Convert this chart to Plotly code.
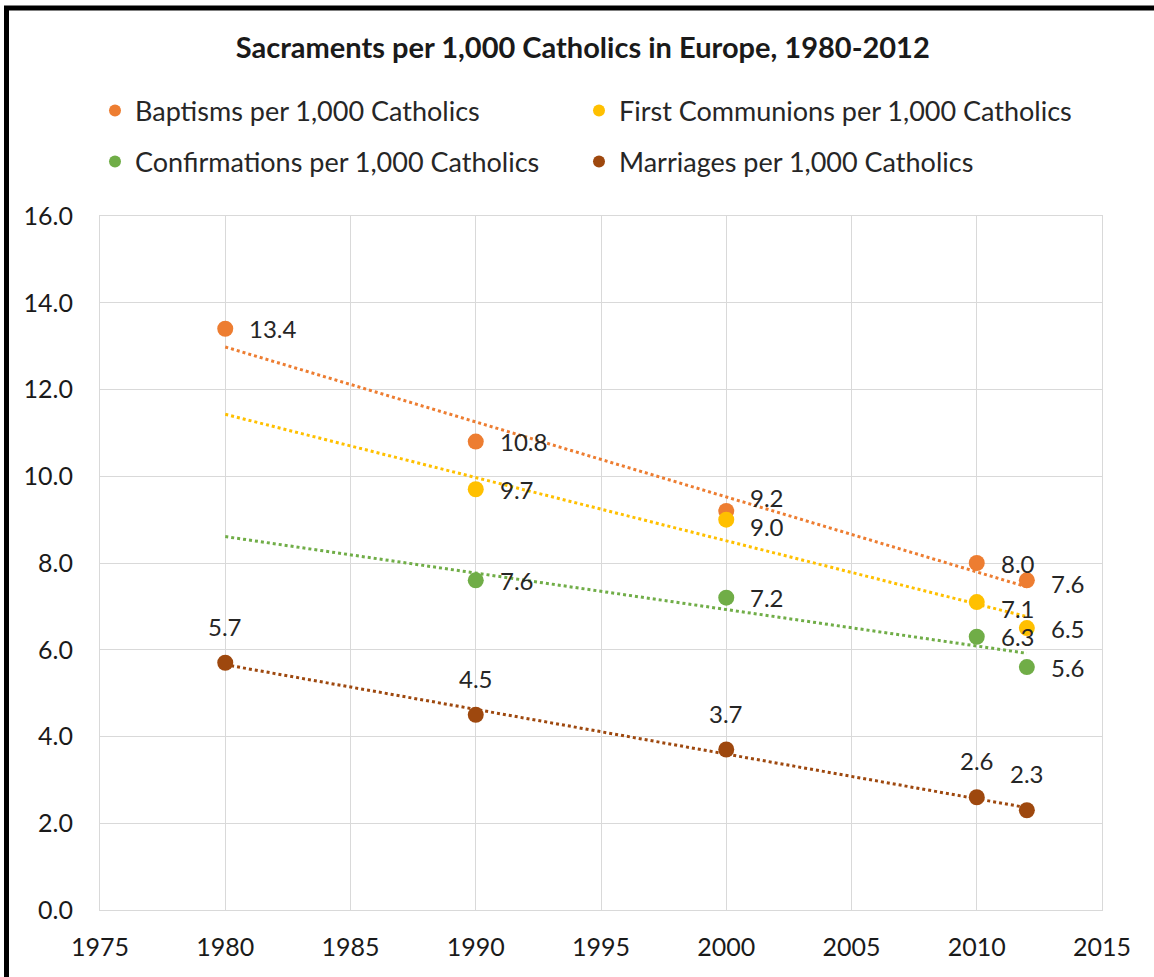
import numpy as np
import plotly.graph_objects as go

# ---------------- data ----------------
title_text = "Sacraments per 1,000 Catholics in Europe, 1980-2012"

series_names = [
    "Baptisms per 1,000 Catholics",
    "First Communions per 1,000 Catholics",
    "Confirmations per 1,000 Catholics",
    "Marriages per 1,000 Catholics",
]

baptism_years = [1980, 1990, 2000, 2010, 2012]
baptism_values = [13.4, 10.8, 9.2, 8.0, 7.6]

communion_years = [1990, 2000, 2010, 2012]
communion_values = [9.7, 9.0, 7.1, 6.5]

confirmation_years = [1990, 2000, 2010, 2012]
confirmation_values = [7.6, 7.2, 6.3, 5.6]

marriage_years = [1980, 1990, 2000, 2010, 2012]
marriage_values = [5.7, 4.5, 3.7, 2.6, 2.3]

trend_start_year = 1980  # trendlines in the original span 1980 - 2012

x_ticks = [1975, 1980, 1985, 1990, 1995, 2000, 2005, 2010, 2015]
y_ticks = [0, 2, 4, 6, 8, 10, 12, 14, 16]

# ---------------- style ----------------
colors = ["#ED7D31", "#FFC000", "#70AD47", "#9E480E"]
FONT = "Lato, 'Open Sans', sans-serif"
W, H = 1154, 977
ML, MR, MT, MB = 100, 52, 216, 67

all_years = [baptism_years, communion_years, confirmation_years, marriage_years]
all_values = [baptism_values, communion_values, confirmation_values, marriage_values]
label_side = ["right", "right", "right", "top"]
# small vertical nudges for crowded labels (series index, point index) -> px
label_nudge = {(0, 2): 13, (1, 1): -7, (1, 2): -6, (0, 4): -3}

# legend slot positions (page pixels: left x, centre y)
legend_slots = [(95, 111), (579, 111), (95, 162), (579, 162)]
legend_ids = ["legend", "legend2", "legend3", "legend4"]

fig = go.Figure()

for i, (name, xs, ys, col) in enumerate(zip(series_names, all_years, all_values, colors)):
    # linear trendline computed from the data
    slope, intercept = np.polyfit(xs, ys, 1)
    tx = [trend_start_year, max(xs)]
    ty = [slope * t + intercept for t in tx]
    fig.add_trace(go.Scatter(
        x=tx, y=ty, mode="lines",
        line=dict(color=col, width=3, dash="dot"),
        showlegend=False, hoverinfo="skip",
    ))

for i, (name, xs, ys, col) in enumerate(zip(series_names, all_years, all_values, colors)):
    fig.add_trace(go.Scatter(
        x=xs, y=ys, mode="markers", name=name,
        marker=dict(color=col, size=16),
        legend=legend_ids[i],
    ))
    for j, (xv, yv) in enumerate(zip(xs, ys)):
        if label_side[i] == "right":
            fig.add_annotation(
                x=xv, y=yv, text=f"{yv:.1f}", showarrow=False,
                xanchor="left", yanchor="middle", xshift=22,
                yshift=label_nudge.get((i, j), 0),
                font=dict(family=FONT, size=24, color="#262626"),
            )
        else:
            fig.add_annotation(
                x=xv, y=yv, text=f"{yv:.1f}", showarrow=False,
                xanchor="center", yanchor="bottom", yshift=20,
                font=dict(family=FONT, size=24, color="#262626"),
            )

pw = W - ML - MR
ph = H - MT - MB

def px_x(p):
    return (p - ML) / pw

def px_y(p):
    return (H - MB - p) / ph

# black frame around the chart (left and top edges visible)
fig.add_shape(type="rect", xref="paper", yref="paper",
              x0=px_x(6.5), x1=px_x(1180), y0=px_y(1000), y1=px_y(8),
              line=dict(color="black", width=5), fillcolor="rgba(0,0,0,0)")

legend_common = dict(
    orientation="h", xanchor="left", yanchor="middle",
    font=dict(family=FONT, size=27, color="#262626"),
    bgcolor="rgba(0,0,0,0)", borderwidth=0, itemsizing="constant",
)

legend_layout = {
    lid: dict(x=px_x(lx), y=px_y(ly), **legend_common)
    for lid, (lx, ly) in zip(legend_ids, legend_slots)
}

fig.update_layout(
    width=W, height=H,
    margin=dict(l=ML, r=MR, t=MT, b=MB),
    paper_bgcolor="white", plot_bgcolor="white",
    font=dict(family=FONT, size=24, color="#262626"),
    title=dict(text=f"<b>{title_text}</b>", x=0.505, xref="container",
               y=1 - 48 / H, yref="container", xanchor="center", yanchor="middle",
               font=dict(family=FONT, size=29, color="#1a1a1a")),
    xaxis=dict(range=[1975, 2015], tickvals=x_ticks, ticktext=[str(v) for v in x_ticks],
               showgrid=True, gridcolor="#d9d9d9", gridwidth=1,
               showline=True, linecolor="#d9d9d9", linewidth=1, mirror=True,
               zeroline=False, ticks="", ticklabelstandoff=15,
               tickfont=dict(family=FONT, size=25, color="#1a1a1a")),
    yaxis=dict(range=[0, 16], tickvals=y_ticks, ticktext=[f"{v:.1f}" for v in y_ticks],
               showgrid=True, gridcolor="#d9d9d9", gridwidth=1,
               showline=True, linecolor="#d9d9d9", linewidth=1, mirror=True,
               zeroline=False, ticks="", ticklabelstandoff=21,
               tickfont=dict(family=FONT, size=25, color="#1a1a1a")),
    hovermode=False,
    **legend_layout,
)

fig.write_html("out.html",
               config={"displayModeBar": False},
               post_script="document.body.style.margin='0px';document.body.style.overflow='hidden';")
